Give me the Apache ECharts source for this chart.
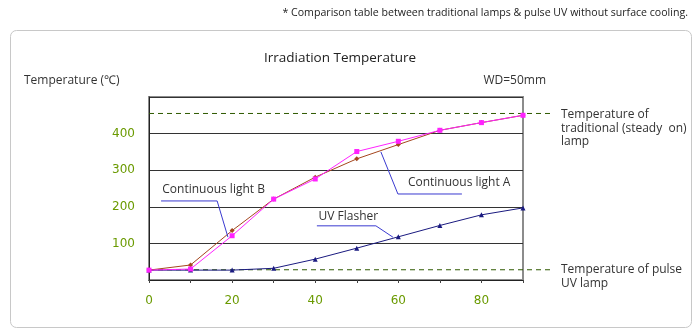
<!DOCTYPE html>
<html>
<head>
<meta charset="utf-8">
<script src="https://cdn.jsdelivr.net/npm/echarts@6/dist/echarts.min.js"></script>
<style>
html,body{margin:0;padding:0;background:#fff;}
#c{width:700px;height:335px;}
</style>
</head>
<body>
<div id="c"></div>
<script>
// ---- data ----
const distances = [0, 10, 20, 30, 40, 50, 60, 70, 80, 90];
const continuousA = [27, 41, 135, 221, 281, 331, 370, 409, 430, 450];
const continuousB = [27, 30, 121, 221, 276, 351, 379, 409, 430, 450];
const uvFlasher  = [27, 27, 27, 32, 57, 87, 118, 149, 178, 197];
const traditionalLevel = 455;
const pulseLevel = 28;
const yTicks = [100, 200, 300, 400];
const xTicks = [0, 20, 40, 60, 80];
// annotation anchors (data coordinates)
const annB = {text: 'Continuous light B', at: [3.2, 246], path: [[2.9, 216], [16.4, 216], [19.0, 117]]};
const annA = {text: 'Continuous light A', at: [62.3, 266], path: [[75.3, 235], [59.9, 235], [55.8, 350]]};
const annUV = {text: 'UV Flasher', at: [40.8, 173], path: [[40.4, 148], [54.6, 148], [58.7, 117]]};

const chart = echarts.init(document.getElementById('c'));
const FONT = 'Open Sans';
const labelGreen = '#6a9a00';
const dashGreen = '#2f5a00';

function pairs(vals){ return distances.map((d,i)=>[d, vals[i]]); }

const option = {
  animation: false,
  backgroundColor: '#fff',
  grid: [
    {left: 149, right: 177, top: 97, bottom: 55, show: true, borderColor: '#8c8c8c', borderWidth: 2, z: 0},
    {left: 149, right: 150, top: 97, bottom: 55, show: false}
  ],
  xAxis: [
    {type: 'value', gridIndex: 0, min: 0, max: 90, interval: 10,
     axisLine: {show: true, lineStyle: {color: '#222', width: 1}},
     axisTick: {show: true, length: 3, lineStyle: {color: '#444'}},
     splitLine: {show: false},
     axisLabel: {margin: 15, color: labelGreen, fontFamily: 'DejaVu Sans', fontSize: 12,
       formatter: v => xTicks.indexOf(v) >= 0 ? String(v) : ''}},
    {type: 'value', gridIndex: 1, min: 0, max: 1, show: false}
  ],
  yAxis: [
    {type: 'value', gridIndex: 0, min: 0, max: 500, interval: 100,
     axisLine: {show: true, lineStyle: {color: '#222', width: 1}},
     axisTick: {show: false},
     splitLine: {show: true, lineStyle: {color: '#333', width: 1}},
     axisLabel: {margin: 14, color: labelGreen, fontFamily: 'DejaVu Sans', fontSize: 12,
       formatter: v => yTicks.indexOf(v) >= 0 ? String(v) : ''}},
    {type: 'value', gridIndex: 1, min: 0, max: 500, show: false}
  ],
  series: [
    {name: 'Temperature of traditional lamp', type: 'line', xAxisIndex: 1, yAxisIndex: 1,
     data: [[0, traditionalLevel], [1, traditionalLevel]], symbol: 'none',
     lineStyle: {color: dashGreen, width: 1, type: [5, 4]}, z: 1},
    {name: 'Temperature of pulse UV lamp', type: 'line', xAxisIndex: 1, yAxisIndex: 1,
     data: [[0, pulseLevel], [1, pulseLevel]], symbol: 'none',
     lineStyle: {color: dashGreen, width: 1, type: [5, 4]}, z: 1},
    {name: 'UV Flasher', type: 'line', data: pairs(uvFlasher), symbol: 'triangle', symbolSize: 5,
     itemStyle: {color: '#1a1a80'}, lineStyle: {color: '#1a1a80', width: 1}, z: 3},
    {name: 'Continuous light A', type: 'line', data: pairs(continuousA), symbol: 'diamond', symbolSize: 5,
     itemStyle: {color: '#a5461e'}, lineStyle: {color: '#a5461e', width: 1}, z: 4},
    {name: 'Continuous light B', type: 'line', data: pairs(continuousB), symbol: 'rect', symbolSize: 5,
     itemStyle: {color: '#ff22ff'}, lineStyle: {color: '#ff22ff', width: 1}, z: 5}
  ]
};
chart.setOption(option);

const textStyleBase = {fontFamily: FONT, fontSize: 12, fill: '#333'};
const graphics = [
  {type: 'rect', shape: {x: 10.5, y: 30.5, width: 681, height: 297, r: 6}, style: {fill: 'none', stroke: '#c8c8c8', lineWidth: 1}, z: -10},
  {type: 'text', right: 12, top: 7, style: Object.assign({}, textStyleBase, {text: '* Comparison table between traditional lamps & pulse UV without surface cooling.', fontSize: 10.6, fill: '#222'})},
  {type: 'text', x: 340, y: 58, style: Object.assign({}, textStyleBase, {text: 'Irradiation Temperature', fontSize: 13.5, fontWeight: 500, textAlign: 'center', textVerticalAlign: 'middle', fill: '#222'})},
  {type: 'text', x: 24, y: 81, style: Object.assign({}, textStyleBase, {text: 'Temperature (\u2103)', textVerticalAlign: 'middle'})},
  {type: 'text', x: 546, y: 81, style: Object.assign({}, textStyleBase, {text: 'WD=50mm', textAlign: 'right', textVerticalAlign: 'middle'})},
  {type: 'text', x: 561, y: 108, style: Object.assign({}, textStyleBase, {text: 'Temperature of\ntraditional (steady  on)\nlamp', lineHeight: 13.5})},
  {type: 'text', x: 561, y: 263, style: Object.assign({}, textStyleBase, {text: 'Temperature of pulse\nUV lamp', lineHeight: 13.5})}
];
[annB, annA, annUV].forEach(a => {
  const pts = a.path.map(p => chart.convertToPixel({gridIndex: 0}, p));
  graphics.push({type: 'polyline', shape: {points: pts}, style: {stroke: '#3a3ad0', lineWidth: 1, fill: 'none'}, z: 10});
  const t = chart.convertToPixel({gridIndex: 0}, a.at);
  graphics.push({type: 'text', x: t[0], y: t[1], style: Object.assign({}, textStyleBase, {text: a.text, textVerticalAlign: 'middle'}), z: 11});
});
chart.setOption({graphic: graphics});
</script>
</body>
</html>
